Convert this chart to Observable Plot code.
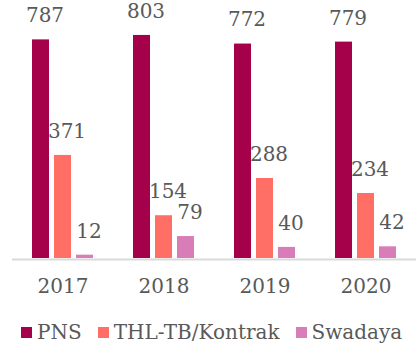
<!DOCTYPE html>
<html>
<head>
<meta charset="utf-8">
<script src="https://cdn.jsdelivr.net/npm/d3@7"></script>
<script src="https://cdn.jsdelivr.net/npm/@observablehq/plot@0.6"></script>
<style>
  body { margin: 0; background: #fff; }
  #chart { width: 418px; }
  .emp-legend-swatches {
    font-family: "DejaVu Serif", serif !important;
    font-size: 20px !important;
    color: #595959 !important;
    margin: 19px 0 0 21px !important;
    line-height: 24px;
    min-height: 26px !important;
    flex-wrap: nowrap !important;
    white-space: nowrap;
  }
  .emp-legend-swatch { margin-right: 16px !important; white-space: nowrap; }
  .emp-legend-swatch:last-child { margin-right: 0 !important; }
  .emp-legend-swatch > svg { margin-right: 5px !important; }
</style>
</head>
<body>
<div id="chart"></div>
<script>
// Staff counts by employment status, 2017–2020
const years = ["2017", "2018", "2019", "2020"];
const series = ["PNS", "THL-TB/Kontrak", "Swadaya"];
const pns = [787, 803, 772, 779];
const kontrak = [371, 154, 288, 234];
const swadaya = [12, 79, 40, 42];
const colors = ["#A5004A", "#FF6F66", "#D97DB8"];

const values = [pns, kontrak, swadaya];
const rows = [];
years.forEach((year, i) => {
  series.forEach((s, j) => rows.push({year, series: s, value: values[j][i]}));
});

const font = "DejaVu Serif, serif";

const chart = Plot.plot({
  width: 418,
  height: 300,
  marginTop: 8,
  marginBottom: 42,
  marginLeft: 10,
  marginRight: 1,
  style: {fontFamily: font, fontSize: "20px", color: "#595959", background: "#fff"},
  fx: {domain: years, padding: 0, axis: "bottom", tickSize: 0, tickPadding: 20, label: null},
  x: {domain: series, axis: null, paddingInner: 0.23, paddingOuter: 0.86},
  y: {domain: [0, 900], axis: null},
  color: {domain: series, range: colors},
  marks: [
    Plot.barY(rows, {fx: "year", x: "series", y: "value", fill: "series"}),
    Plot.ruleY([0], {stroke: "#d9d9d9", strokeWidth: 2, dy: 1}),
    Plot.text(rows, {fx: "year", x: "series", y: "value", text: d => String(d.value),
      dy: -24, dx: 4, fill: "#595959", fontSize: 20})
  ]
});

const legend = Plot.legend({
  color: {domain: series, range: colors},
  legend: "swatches",
  swatchSize: 11,
  className: "emp-legend"
});

const root = document.getElementById("chart");
root.appendChild(chart);
root.appendChild(legend);
</script>
</body>
</html>
